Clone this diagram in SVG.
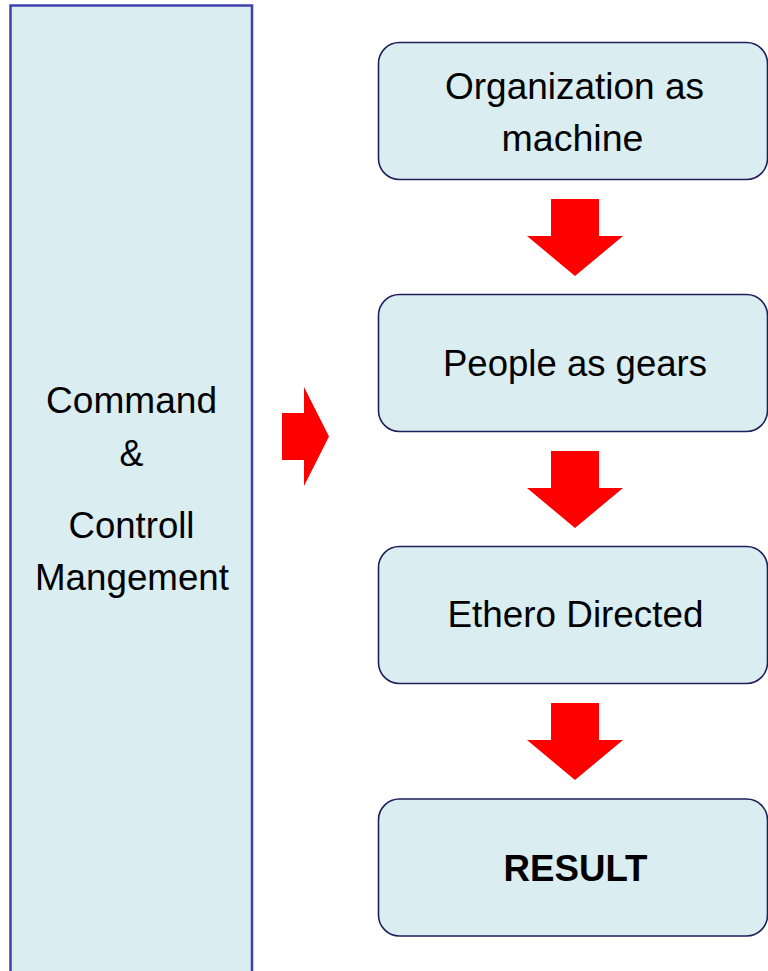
<svg xmlns="http://www.w3.org/2000/svg" width="768" height="971" viewBox="0 0 768 971">
<defs>
<style>
.box{fill:#daedf0;stroke:#1f1f5c;stroke-width:1.6}
.side{fill:#daedf0;stroke:#4040b0;stroke-width:2.5}
.t{font-family:"Liberation Sans",Arial,sans-serif;font-size:36px;fill:#000;text-anchor:middle}
.b{font-weight:bold}
.arr{fill:#ff0000}
</style>
<polygon id="down" class="arr" points="-24,0 24,0 24,37 48,37 0,77 -48,37 -24,37"/>
</defs>
<g id="side">
<rect class="side" x="10.5" y="5.5" width="241.5" height="980"/>
<text class="t" x="131.5" y="413" textLength="171" lengthAdjust="spacingAndGlyphs">Command</text>
<text class="t" x="131.5" y="466">&amp;</text>
<text class="t" x="131.5" y="538" textLength="126" lengthAdjust="spacingAndGlyphs">Controll</text>
<text class="t" x="132" y="590" textLength="194" lengthAdjust="spacingAndGlyphs">Mangement</text>
</g>
<g id="n1">
<rect class="box" x="378.5" y="42.5" width="389" height="137" rx="21"/>
<text class="t" x="574.5" y="99" textLength="259" lengthAdjust="spacingAndGlyphs">Organization as</text>
<text class="t" x="572.5" y="151" textLength="142" lengthAdjust="spacingAndGlyphs">machine</text>
</g>
<g id="n2">
<rect class="box" x="378.5" y="294.5" width="389" height="137" rx="21"/>
<text class="t" x="575" y="376" textLength="264" lengthAdjust="spacingAndGlyphs">People as gears</text>
</g>
<g id="n3">
<rect class="box" x="378.5" y="546.5" width="389" height="137" rx="21"/>
<text class="t" x="575.5" y="627" textLength="256" lengthAdjust="spacingAndGlyphs">Ethero Directed</text>
</g>
<g id="n4">
<rect class="box" x="378.5" y="799" width="389" height="137" rx="21"/>
<text class="t b" x="575.5" y="881" textLength="144" lengthAdjust="spacingAndGlyphs">RESULT</text>
</g>
<g id="connectors">
<polygon class="arr" points="282,413 304,413 304,387 329,436.5 304,486 304,460 282,460"/>
<use href="#down" x="575" y="199"/>
<use href="#down" x="575" y="451"/>
<use href="#down" x="575" y="703"/>
</g>
</svg>
